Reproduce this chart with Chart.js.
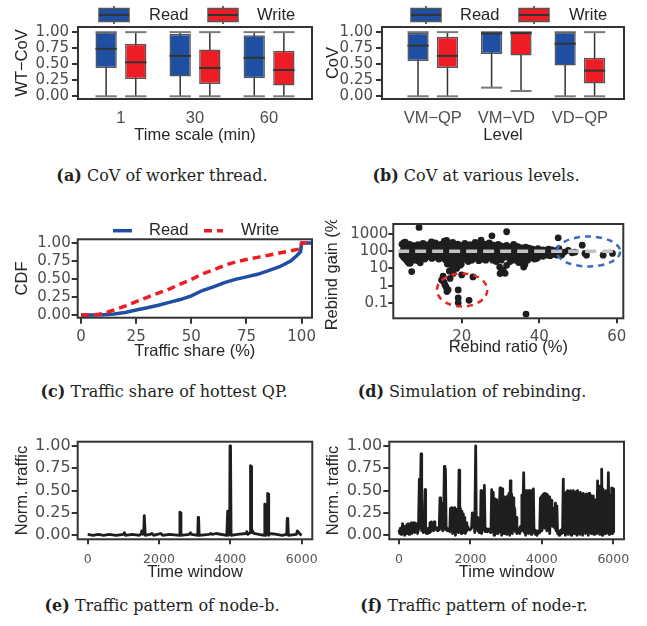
<!DOCTYPE html>
<html>
<head>
<meta charset="utf-8">
<script src="https://cdn.jsdelivr.net/npm/chart.js@4.4.1/dist/chart.umd.min.js"></script>
<style>
  body { margin: 0; background: #fff; }
  #page { position: relative; width: 647px; height: 626px; overflow: hidden; }
  canvas { position: absolute; }
  .cap { position: absolute; width: 320px; text-align: center; font-family: "DejaVu Serif", serif; font-size: 16px; color: #231f20; white-space: nowrap; line-height: 20px; }
</style>
</head>
<body>
<div id="page">
  <canvas id="chartA" width="320" height="150" style="left:0;top:0"></canvas>
  <canvas id="chartB" width="327" height="150" style="left:320px;top:0"></canvas>
  <canvas id="chartC" width="320" height="172" style="left:0;top:200px"></canvas>
  <canvas id="chartD" width="327" height="152" style="left:320px;top:220px"></canvas>
  <canvas id="chartE" width="320" height="162" style="left:0;top:430px"></canvas>
  <canvas id="chartF" width="327" height="162" style="left:320px;top:430px"></canvas>
  <div class="cap" style="left:2px;top:166px"><b>(a)</b> CoV of worker thread.</div>
  <div class="cap" style="left:316px;top:166px"><b>(b)</b> CoV at various levels.</div>
  <div class="cap" style="left:4px;top:382px"><b>(c)</b> Traffic share of hottest QP.</div>
  <div class="cap" style="left:312px;top:382px"><b>(d)</b> Simulation of rebinding.</div>
  <div class="cap" style="left:2px;top:596px"><b>(e)</b> Traffic pattern of node-b.</div>
  <div class="cap" style="left:314px;top:596px"><b>(f)</b> Traffic pattern of node-r.</div>
</div>
<script>
// (a) / (b) box plots: [min, q1, median, q3, max]
const timeScales = ['1', '30', '60'];
const wtRead  = [[0, 0.44, 0.74, 1.00, 1], [0, 0.31, 0.63, 0.97, 1], [0, 0.28, 0.60, 0.95, 1]];
const wtWrite = [[0, 0.27, 0.53, 0.82, 1], [0, 0.19, 0.44, 0.73, 1], [0, 0.17, 0.41, 0.71, 1]];

const levels = ['VM\u2212QP', 'VM\u2212VD', 'VD\u2212QP'];
const lvRead  = [[0, 0.55, 0.79, 0.99, 1], [0.135, 0.66, 0.98, 1.00, 1], [0, 0.48, 0.82, 1.00, 1]];
const lvWrite = [[0, 0.44, 0.63, 0.93, 1], [0.083, 0.635, 0.985, 1.00, 1], [0, 0.20, 0.40, 0.60, 1]];

const covTicks = [0, 0.25, 0.5, 0.75, 1];

// (c) CDF of traffic share
const readShare = [0, 5, 10, 15, 20, 25, 30, 35, 40, 45, 50, 55, 60, 65, 70, 75, 80, 85, 90, 95, 98, 99.5, 100, 104.7];
const readCdf   = [0, 0, 0.005, 0.015, 0.035, 0.07, 0.1, 0.135, 0.175, 0.215, 0.265, 0.34, 0.39, 0.45, 0.495, 0.53, 0.565, 0.615, 0.67, 0.75, 0.83, 0.88, 1, 1];
const writeShare = [0, 5, 8, 10, 15, 20, 25, 30, 35, 40, 45, 50, 55, 60, 65, 70, 75, 80, 85, 90, 95, 99.5, 100, 104.7];
const writeCdf   = [0, 0, 0.01, 0.02, 0.07, 0.125, 0.185, 0.245, 0.305, 0.36, 0.43, 0.495, 0.57, 0.625, 0.69, 0.735, 0.77, 0.8, 0.83, 0.86, 0.89, 0.92, 1, 1];
const shareTicks = [0, 25, 50, 75, 100];

// (d) rebinding simulation: [rebind ratio %, rebind gain %]
const rebindPoints = [
  [4.6,60],[4.6,250],[5.0,45],[5.0,130],[5.0,300],[5.5,80],[5.5,200],[5.5,35],[6.0,25],[6.0,110],[6.0,170],[6.4,20],[6.4,60],[6.4,260],
  [6.9,90],[6.9,150],[6.9,40],[7.3,55],[7.3,220],[7.3,120],[7.8,30],[7.8,75],[7.8,180],[8.2,100],[8.2,140],[8.2,50],[8.7,65],[8.7,240],
  [8.7,28],[9.1,85],[9.1,160],[9.1,45],[9.6,120],[9.6,210],[9.6,60],[10.0,40],[10.0,95],[10.0,280],[10.5,70],[10.5,150],[10.5,35],
  [11.0,110],[11.0,230],[11.0,55],[11.4,48],[11.4,180],[11.4,90],[11.9,65],[11.9,130],[11.9,260],[12.3,38],[12.3,100],[12.3,200],
  [12.8,80],[12.8,160],[12.8,50],[13.2,120],[13.2,300],[13.2,45],[13.7,60],[13.7,140],[13.7,210],[14.1,90],[14.1,35],[14.1,170],
  [14.6,55],[14.6,250],[14.6,110],[15.0,75],[15.0,190],[15.0,40],[15.5,130],[15.5,60],[15.5,380],[15.9,30],[15.9,95],[15.9,170],
  [16.3,18],[16.3,70],[16.3,240],[16.8,110],[16.8,45],[16.8,200],[17.2,60],[17.2,150],[17.2,25],[17.7,85],[17.7,320],[17.7,15],
  [18.1,40],[18.1,130],[18.1,220],[18.6,70],[18.6,180],[18.6,22],[19.0,100],[19.0,50],[19.0,260],[19.5,30],[19.5,140],[19.5,75],
  [19.9,60],[19.9,210],[19.9,18],[20.4,90],[20.4,160],[20.4,40],[20.8,120],[20.8,35],[20.8,280],[21.3,55],[21.3,190],[21.3,85],
  [21.7,70],[21.7,130],[21.7,25],[22.2,110],[22.2,240],[22.2,45],[22.6,60],[22.6,160],[22.6,30],[23.1,80],[23.1,200],[23.1,50],
  [23.5,40],[23.5,130],[23.5,320],[24.0,95],[24.0,170],[24.0,55],[24.4,65],[24.4,230],[24.4,28],[24.9,120],[24.9,45],[24.9,180],
  [25.3,75],[25.3,140],[25.3,35],[25.8,100],[25.8,260],[25.8,50],[26.2,55],[26.2,170],[26.2,30],[26.7,85],[26.7,210],[26.7,40],
  [27.1,125],[27.1,60],[27.1,300],[27.6,45],[27.6,150],[27.6,90],[28.0,70],[28.0,230],[28.0,30],[28.5,110],[28.5,180],[28.5,50],
  [28.9,60],[28.9,140],[28.9,25],[29.4,90],[29.4,250],[29.4,40],[29.8,50],[29.8,120],[29.8,12],[30.2,75],[30.2,200],[30.2,30],
  [30.7,130],[30.7,60],[30.7,8],[31.1,45],[31.1,160],[31.1,100],[31.6,80],[31.6,220],[31.6,15],[32.0,110],[32.0,50],[32.0,170],
  [32.5,60],[32.5,140],[32.5,25],[32.9,90],[32.9,180],[32.9,40],[33.4,55],[33.4,120],[33.4,250],[33.8,75],[33.8,150],[33.8,30],
  [34.3,45],[34.3,100],[34.3,190],[34.7,65],[34.7,130],[34.7,22],[35.2,85],[35.2,160],[35.2,40],[35.6,50],[35.6,110],[35.6,20],
  [36.1,70],[36.1,140],[36.1,17],[36.5,40],[36.5,95],[36.5,170],[37.0,60],[37.0,120],[37.0,30],[37.4,80],[37.4,150],[37.4,45],
  [37.9,55],[37.9,100],[38.3,70],[38.3,130],[38.3,40],[38.8,50],[38.8,90],[38.8,35],[39.2,75],[39.2,110],[39.7,60],[39.7,140],
  [39.7,45],[40.1,85],[40.1,55],[40.6,65],[40.6,100],[41.0,50],[41.0,80],[41.0,120],[41.5,70],[41.5,95],[41.9,60],[41.9,110],
  [42.4,75],[42.4,130],[42.8,55],[42.8,90],[43.3,80],[43.3,120],[43.7,65],[43.7,100],[44.2,90],[44.2,70],[44.6,110],[44.6,60],
  [45.1,80],[45.1,140],
  [9.0,2400],[31.6,1350],[27.8,780],[44.9,600],[25.0,440],[5.4,330],[12.2,350],[16.1,430],
  [7.1,6.5],[6.7,20],[9.3,21],[29.9,5],[30.3,6],[31.2,5.2],[36.3,17],[36.0,12],[39.3,37],
  [14.8,2.1],[15.7,1.1],[16.5,0.57],[17.0,2.6],[17.8,5.1],[18.7,10],[19.6,15],[20.0,4.2],[19.1,0.56],[19.1,0.19],[19.1,0.1],
  [21.9,0.14],[22.9,3.2],[15.4,1.6],[16.0,0.8],[16.2,0.45],[15.2,3.5],[16.8,7],[17.5,12],
  [36.6,0.022],
  [46.5,89],[47.5,112],[49.2,88],[51.1,225],[51.8,74],[52.2,59],[56.5,59],[58.9,74],[45.8,60],[48.5,80]
];
const gainRef = 100;
const ringCenters = [[20.1, 0.56], [52.7, 96]];
const ringRadii = [[6.5, 0.96], [8.2, 0.87]];
const gainTicks = [0.1, 1, 10, 100, 1000];
const ratioTicks = [20, 40, 60];

// (e) / (f) normalized traffic: [time window, traffic]
const nodeB = [
  [0,0.01],[150,0.0],[300,0.01],[450,0.0],[600,0.01],[800,0.0],[1000,0.01],[1030,0.03],[1060,0.0],[1250,0.01],[1450,0.0],
  [1500,0.02],[1515,0.05],[1540,0.01],[1570,0.02],[1586,0.22],[1600,0.22],[1615,0.0],[1750,0.01],[1800,0.02],[1850,0.0],
  [1950,0.01],[2050,0.02],[2100,0.0],[2300,0.01],[2570,0.0],[2585,0.26],[2600,0.25],[2615,0.0],[2850,0.01],[2880,0.03],
  [2910,0.01],[3085,0.0],[3098,0.20],[3110,0.19],[3125,0.0],[3400,0.01],[3450,0.02],[3500,0.01],[3600,0.02],[3900,0.0],
  [3925,0.27],[3945,0.0],[3980,0.02],[3990,1.0],[4005,0.98],[4020,0.0],[4200,0.01],[4440,0.02],[4460,0.04],[4490,0.01],
  [4555,0.03],[4565,0.78],[4580,0.77],[4595,0.03],[4620,0.05],[4660,0.02],[4800,0.01],[4950,0.0],[4965,0.35],[4980,0.3],
  [4995,0.0],[5035,0.02],[5045,0.47],[5060,0.46],[5075,0.0],[5100,0.02],[5300,0.01],[5450,0.0],[5580,0.01],[5595,0.19],
  [5610,0.18],[5625,0.0],[5850,0.01],[5880,0.05],[5920,0.03],[5960,0.01],[6000,0.0]
];
const nodeR = [
  [0,0.06],[20,0.02],[40,0.08],[60,0.01],[80,0.05],[100,0.13],[120,0.03],[140,0.1],[160,0.0],[180,0.06],[200,0.02],[220,0.12],
  [240,0.04],[260,0.13],[280,0.01],[300,0.1],[320,0.05],[340,0.14],[360,0.02],[380,0.12],[400,0.06],[420,0.14],[440,0.03],
  [460,0.11],[480,0.05],[500,0.13],[520,0.02],[545,0.07],[570,0.63],[590,0.08],[616,0.91],[635,0.05],[660,0.08],[680,0.03],
  [700,0.07],[728,0.51],[745,0.05],[765,0.02],[785,0.07],[805,0.02],[825,0.08],[845,0.03],[865,0.14],[885,0.04],[905,0.15],
  [925,0.06],[945,0.13],[965,0.05],[985,0.15],[1005,0.07],[1025,0.09],[1045,0.06],[1065,0.08],[1085,0.05],[1105,0.07],
  [1125,0.06],[1148,0.42],[1165,0.08],[1185,0.36],[1205,0.07],[1225,0.05],[1245,0.08],[1270,0.77],[1285,0.07],[1300,0.74],
  [1320,0.06],[1340,0.08],[1360,0.05],[1380,0.07],[1420,0.04],[1440,0.3],[1460,0.05],[1480,0.31],[1500,0.02],[1520,0.3],
  [1540,0.06],[1560,0.31],[1580,0.0],[1600,0.29],[1615,0.07],[1640,0.05],[1660,0.03],[1680,0.73],[1700,0.05],[1720,0.3],
  [1740,0.02],[1760,0.27],[1780,0.04],[1800,0.24],[1820,0.03],[1840,0.2],[1860,0.02],[1880,0.14],[1900,0.05],[1920,0.1],
  [1950,0.07],[1990,0.06],[2030,0.08],[2053,0.25],[2075,0.1],[2100,0.22],[2120,0.03],[2147,1.0],[2165,0.08],[2185,0.2],
  [2205,0.05],[2225,0.15],[2245,0.03],[2265,0.18],[2280,0.05],[2296,0.5],[2315,0.02],[2340,0.47],[2360,0.06],[2375,0.2],
  [2390,0.56],[2410,0.04],[2430,0.08],[2460,0.06],[2480,0.04],[2500,0.07],[2520,0.05],[2540,0.06],[2560,0.03],[2575,0.05],
  [2595,0.51],[2615,0.04],[2640,0.48],[2660,0.0],[2680,0.41],[2700,0.06],[2720,0.38],[2735,0.4],[2750,0.02],[2770,0.3],
  [2790,0.05],[2828,0.53],[2845,0.03],[2860,0.45],[2875,0.0],[2890,0.52],[2905,0.07],[2920,0.4],[2940,0.02],[2960,0.43],
  [2980,0.05],[3000,0.41],[3020,0.01],[3040,0.44],[3060,0.04],[3080,0.47],[3100,0.0],[3117,0.61],[3135,0.05],[3155,0.46],
  [3175,0.02],[3195,0.42],[3215,0.06],[3240,0.3],[3260,0.04],[3280,0.2],[3300,0.02],[3320,0.08],[3340,0.03],[3360,0.05],
  [3380,0.02],[3400,0.1],[3420,0.05],[3440,0.45],[3460,0.06],[3491,0.7],[3510,0.03],[3530,0.49],[3545,0.0],[3560,0.5],
  [3580,0.05],[3600,0.47],[3620,0.02],[3640,0.5],[3660,0.06],[3680,0.48],[3700,0.01],[3720,0.5],[3740,0.04],[3763,0.52],
  [3780,0.03],[3800,0.06],[3820,0.01],[3840,0.05],[3860,0.0],[3880,0.04],[3900,0.02],[3920,0.05],[3940,0.03],[3960,0.42],
  [3980,0.05],[4000,0.44],[4020,0.1],[4040,0.46],[4060,0.08],[4080,0.47],[4100,0.12],[4120,0.46],[4140,0.05],[4160,0.45],
  [4180,0.1],[4200,0.43],[4220,0.02],[4240,0.4],[4260,0.15],[4280,0.39],[4300,0.1],[4320,0.26],[4340,0.3],[4360,0.08],
  [4380,0.36],[4400,0.05],[4420,0.33],[4440,0.02],[4460,0.04],[4480,0.0],[4500,0.05],[4520,0.01],[4540,0.06],[4560,0.02],
  [4580,0.05],[4600,0.63],[4620,0.03],[4640,0.43],[4660,0.0],[4680,0.48],[4700,0.05],[4720,0.5],[4740,0.01],[4760,0.49],
  [4780,0.04],[4800,0.5],[4820,0.0],[4840,0.48],[4860,0.06],[4880,0.5],[4900,0.02],[4920,0.47],[4940,0.03],[4960,0.49],
  [4980,0.0],[5000,0.5],[5020,0.05],[5040,0.46],[5060,0.01],[5080,0.48],[5100,0.04],[5120,0.45],[5140,0.0],[5160,0.47],
  [5180,0.06],[5200,0.44],[5220,0.02],[5240,0.46],[5260,0.03],[5280,0.42],[5300,0.0],[5320,0.47],[5340,0.05],[5360,0.45],
  [5380,0.02],[5400,0.43],[5420,0.06],[5440,0.44],[5460,0.01],[5480,0.4],[5500,0.04],[5520,0.38],[5540,0.02],[5560,0.61],
  [5580,0.05],[5600,0.55],[5620,0.01],[5640,0.5],[5660,0.04],[5675,0.74],[5690,0.0],[5710,0.52],[5730,0.06],[5750,0.48],
  [5770,0.02],[5790,0.5],[5810,0.05],[5830,0.46],[5845,0.03],[5862,0.7],[5880,0.01],[5900,0.45],[5920,0.06],[5940,0.4],
  [5955,0.53],[5970,0.02],[5985,0.3],[6000,0.52],[6010,0.04]
];
const windowTicks = [0, 2000, 4000, 6000];

const readBlue = '#1f4fa3';
const writeRed = '#ee1c25';
const ink = '#1e1e1e';
const numFont = { family: 'DejaVu Sans', size: 15 };
const catFont = { family: 'Liberation Sans', size: 16.5 };
const smallFont = { family: 'DejaVu Sans', size: 12.5 };
const bigNumFont = { family: 'DejaVu Sans', size: 16 };
const titleFont = { family: 'Liberation Sans', size: 16.5, lineHeight: 1 };

function axis(o) {
  return {
    type: o.type || 'linear',
    min: o.min,
    max: o.max,
    offset: false,
    afterBuildTicks: s => { s.ticks = o.ticks.map(v => ({ value: v })); },
    afterFit: s => {
      if (s.isHorizontal()) s.height = o.size; else s.width = o.size;
      s.paddingTop = s.paddingBottom = s.paddingLeft = s.paddingRight = 0;
    },
    grid: { display: o.tickLen > 0, offset: false, drawOnChartArea: false, drawTicks: o.tickLen > 0, tickLength: o.tickLen, color: '#333', lineWidth: 2 },
    border: { display: false },
    ticks: { font: o.font, color: o.tickColor || '#4d4d4d', padding: o.pad, autoSkip: false, maxRotation: 0, callback: o.fmt },
    title: { display: true, text: o.title, font: titleFont, color: '#262626', padding: o.titlePad }
  };
}

const frame = {
  id: 'frame',
  afterDraw(chart) {
    const { ctx, chartArea: a } = chart;
    ctx.save();
    ctx.strokeStyle = '#333';
    ctx.lineWidth = 2;
    ctx.strokeRect(a.left, a.top, a.right - a.left, a.bottom - a.top);
    ctx.restore();
  }
};

// whiskers, caps and medians around the floating-bar boxes
const boxParts = {
  id: 'boxParts',
  beforeDatasetsDraw(chart) {
    const { ctx, scales: { y } } = chart;
    ctx.save();
    chart.data.datasets.forEach((ds, di) => {
      chart.getDatasetMeta(di).data.forEach((bar, i) => {
        const s = ds.stats[i];
        const hw = bar.width / 2;
        ctx.strokeStyle = '#333';
        ctx.lineWidth = 1.5;
        ctx.beginPath();
        ctx.moveTo(bar.x, y.getPixelForValue(s[0]));
        ctx.lineTo(bar.x, y.getPixelForValue(s[4]));
        ctx.stroke();
        ctx.strokeStyle = '#7a7a7a';
        ctx.lineWidth = 2;
        [s[0], s[4]].forEach(v => {
          const py = y.getPixelForValue(v);
          ctx.beginPath();
          ctx.moveTo(bar.x - hw, py);
          ctx.lineTo(bar.x + hw, py);
          ctx.stroke();
        });
      });
    });
    ctx.restore();
  },
  afterDatasetsDraw(chart) {
    const { ctx, scales: { y } } = chart;
    ctx.save();
    ctx.strokeStyle = '#333';
    ctx.lineWidth = 2;
    chart.data.datasets.forEach((ds, di) => {
      chart.getDatasetMeta(di).data.forEach((bar, i) => {
        const py = y.getPixelForValue(ds.stats[i][2]);
        ctx.beginPath();
        ctx.moveTo(bar.x - bar.width / 2, py);
        ctx.lineTo(bar.x + bar.width / 2, py);
        ctx.stroke();
      });
    });
    ctx.restore();
  }
};

function keyLegend(items) {
  return {
    id: 'keyLegend',
    afterDraw(chart) {
      const ctx = chart.ctx;
      ctx.save();
      items.forEach(it => {
        if (it.kind === 'box') {
          ctx.strokeStyle = '#333';
          ctx.lineWidth = 1.5;
          ctx.beginPath();
          ctx.moveTo(it.x + 15, it.y - 9);
          ctx.lineTo(it.x + 15, it.y + 9);
          ctx.stroke();
          ctx.fillStyle = it.color;
          ctx.fillRect(it.x, it.y - 6.5, 30, 13);
          ctx.strokeStyle = '#555';
          ctx.strokeRect(it.x, it.y - 6.5, 30, 13);
          ctx.strokeStyle = '#333';
          ctx.lineWidth = 2;
          ctx.beginPath();
          ctx.moveTo(it.x, it.y);
          ctx.lineTo(it.x + 30, it.y);
          ctx.stroke();
        } else {
          ctx.strokeStyle = it.color;
          ctx.lineWidth = 3.5;
          ctx.setLineDash(it.dash || []);
          ctx.beginPath();
          ctx.moveTo(it.x, it.y);
          ctx.lineTo(it.x + 19, it.y);
          ctx.stroke();
          ctx.setLineDash([]);
        }
        ctx.fillStyle = '#262626';
        ctx.font = '16.5px "Liberation Sans"';
        ctx.textBaseline = 'middle';
        ctx.fillText(it.text, it.tx, it.y);
      });
      ctx.restore();
    }
  };
}

const rings = {
  id: 'rings',
  afterDatasetsDraw(chart) {
    const { ctx, scales: { x, y } } = chart;
    const colors = ['#e8262a', '#3b6cc0'];
    ctx.save();
    ctx.lineWidth = 2.5;
    ctx.setLineDash([6, 5]);
    ringCenters.forEach((c, i) => {
      const cx = x.getPixelForValue(c[0]);
      const cy = y.getPixelForValue(c[1]);
      const rx = x.getPixelForValue(c[0] + ringRadii[i][0]) - cx;
      const ry = cy - y.getPixelForValue(c[1] * Math.pow(10, ringRadii[i][1]));
      ctx.strokeStyle = colors[i];
      ctx.beginPath();
      ctx.ellipse(cx, cy, rx, ry, 0, 0, Math.PI * 2);
      ctx.stroke();
    });
    ctx.restore();
  }
};

function boxSet(label, stats, shift, color) {
  return {
    label,
    stats,
    data: stats.map((s, i) => ({ x: i + 1 + shift, y: [s[1], s[3]] })),
    backgroundColor: color,
    borderColor: '#555',
    borderWidth: 1.5,
    borderSkipped: false,
    grouped: false,
    maxBarThickness: 27
  };
}

const base = pad => ({
  responsive: false,
  animation: false,
  layout: { padding: pad },
  plugins: { legend: { display: false }, tooltip: { enabled: false } }
});

const fmt2 = v => v.toFixed(2);

new Chart(document.getElementById('chartA'), {
  type: 'bar',
  data: { datasets: [boxSet('Read', wtRead, -0.2, readBlue), boxSet('Write', wtWrite, 0.2, writeRed)] },
  options: {
    ...base({ top: 27, right: 8, left: 0, bottom: 0 }),
    scales: {
      x: axis({ min: 0.42, max: 3.58, ticks: [1, 2, 3], fmt: v => timeScales[v - 1], size: 51, tickLen: 0, pad: 9.9, font: catFont, title: 'Time scale (min)', titlePad: { top: 0, bottom: 6.75 } }),
      y: axis({ min: -0.042, max: 1.08, ticks: covTicks, fmt: fmt2, size: 78, tickLen: 6, pad: 3, font: numFont, title: 'WT\u2212CoV', titlePad: { top: 14.25, bottom: 0 } })
    }
  },
  plugins: [boxParts, frame, keyLegend([
    { kind: 'box', x: 99, y: 15, color: readBlue, text: 'Read', tx: 149 },
    { kind: 'box', x: 208, y: 15, color: writeRed, text: 'Write', tx: 257 }
  ])]
});

new Chart(document.getElementById('chartB'), {
  type: 'bar',
  data: { datasets: [boxSet('Read', lvRead, -0.2, readBlue), boxSet('Write', lvWrite, 0.2, writeRed)] },
  options: {
    ...base({ top: 27, right: 23, left: 0, bottom: 0 }),
    scales: {
      x: axis({ min: 0.31, max: 3.6, ticks: [1, 2, 3], fmt: v => levels[v - 1], size: 51, tickLen: 0, pad: 9.9, font: catFont, title: 'Level', titlePad: { top: 0, bottom: 6.75 } }),
      y: axis({ min: -0.042, max: 1.08, ticks: covTicks, fmt: fmt2, size: 62, tickLen: 6, pad: 3, font: numFont, title: 'CoV', titlePad: { top: 4.75, bottom: 0 } })
    }
  },
  plugins: [boxParts, frame, keyLegend([
    { kind: 'box', x: 91, y: 15, color: readBlue, text: 'Read', tx: 140 },
    { kind: 'box', x: 199, y: 15, color: writeRed, text: 'Write', tx: 249 }
  ])]
});

new Chart(document.getElementById('chartC'), {
  type: 'line',
  data: {
    datasets: [
      { label: 'Read', data: readShare.map((v, i) => ({ x: v, y: readCdf[i] })), borderColor: readBlue, borderWidth: 3.5, pointRadius: 0, order: 1 },
      { label: 'Write', data: writeShare.map((v, i) => ({ x: v, y: writeCdf[i] })), borderColor: writeRed, borderWidth: 3.5, borderDash: [8, 5], pointRadius: 0, order: 0 }
    ]
  },
  options: {
    ...base({ top: 39.3, right: 8, left: 0, bottom: 0 }),
    scales: {
      x: axis({ min: -1.5, max: 104.7, ticks: shareTicks, fmt: v => String(v), size: 54.3, tickLen: 6, pad: 4.5, font: numFont, title: 'Traffic share (%)', titlePad: { top: 0, bottom: 12.25 } }),
      y: axis({ min: -0.037, max: 1.051, ticks: covTicks, fmt: fmt2, size: 77.7, tickLen: 6, pad: 1, font: numFont, title: 'CDF', titlePad: { top: 14.25, bottom: 0 } })
    }
  },
  plugins: [frame, keyLegend([
    { kind: 'line', x: 113, y: 30.7, color: readBlue, text: 'Read', tx: 149 },
    { kind: 'line', x: 204, y: 30.7, color: writeRed, dash: [8, 5], text: 'Write', tx: 241 }
  ])]
});

new Chart(document.getElementById('chartD'), {
  type: 'scatter',
  data: {
    datasets: [
      { type: 'line', label: 'ref', data: [{ x: 3.6, y: gainRef }, { x: 59, y: gainRef }], borderColor: '#c2c2c2', borderWidth: 3.5, borderDash: [11, 6], pointRadius: 0, order: 0 },
      { label: 'gain', data: rebindPoints.map(p => ({ x: p[0], y: p[1] })), backgroundColor: ink, borderWidth: 0, pointRadius: 3.4, order: 1 }
    ]
  },
  options: {
    ...base({ top: 3.3, right: 23.7, left: 0, bottom: 0 }),
    scales: {
      x: axis({ min: 2.35, max: 61.7, ticks: ratioTicks, fmt: v => String(v), size: 53.7, tickLen: 5, pad: 4.4, font: numFont, title: 'Rebind ratio (%)', titlePad: { top: 0, bottom: 16.5 } }),
      y: axis({ type: 'logarithmic', min: 0.0126, max: 3800, ticks: gainTicks, fmt: v => String(v), size: 73.3, tickLen: 5, pad: 0, font: numFont, title: 'Rebind gain (%)', titlePad: { top: 4.5, bottom: 0 } })
    }
  },
  plugins: [rings, frame]
});

function trafficChart(id, series, left, right, tickStart, titleTop) {
  return new Chart(document.getElementById(id), {
    type: 'line',
    data: {
      datasets: [{ label: 'traffic', data: series.map(p => ({ x: p[0], y: p[1] })), borderColor: ink, borderWidth: 2.8, borderJoinStyle: 'round', pointRadius: 0 }]
    },
    options: {
      ...base({ top: 11.7, right: right, left: 0, bottom: 0 }),
      scales: {
        x: axis({ min: tickStart[0], max: tickStart[1], ticks: windowTicks, fmt: v => String(v), size: 52.7, tickLen: 5, pad: 7.9, font: smallFont, tickColor: '#555', title: 'Time window', titlePad: { top: 0, bottom: 11.75 } }),
        y: axis({ min: -0.045, max: 1.048, ticks: covTicks, fmt: fmt2, size: left, tickLen: 6, pad: 1, font: bigNumFont, title: 'Norm. traffic', titlePad: { top: titleTop, bottom: 0 } })
      }
    },
    plugins: [frame]
  });
}

trafficChart('chartE', nodeB, 77.7, 7.7, [-280, 6297], 14.25);
trafficChart('chartF', nodeR, 69.3, 23, [-272, 6300], 4.75);
</script>
</body>
</html>
